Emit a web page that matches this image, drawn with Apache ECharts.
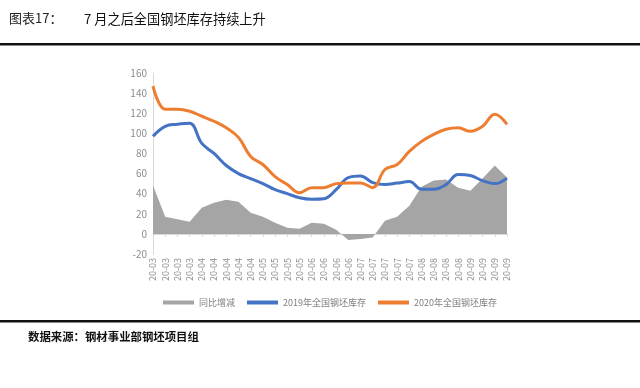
<!DOCTYPE html>
<html><head><meta charset="utf-8">
<script src="https://cdn.jsdelivr.net/npm/echarts@6/dist/echarts.min.js"></script>
<style>html,body{margin:0;padding:0;background:#fff}#c{width:640px;height:388px}</style>
</head><body><div id="c"></div>
<script>
var categories = ['20-03','20-03','20-03','20-03','20-04','20-04','20-04','20-04','20-04','20-05','20-05','20-05','20-05','20-06','20-06','20-06','20-06','20-07','20-07','20-07','20-07','20-07','20-08','20-08','20-08','20-08','20-09','20-09','20-09','20-09'];
var yoyChange = [48,17,14.5,12,26,31,34,32,21,17,11,6,5,11,10,4,-6,-5,-3.5,13,17,28,47,53,54,46,43,55,68,56];
var stock2019 = [97,107,109,110,90,80,68,60,55,50,44,40,36,34.5,35,44,56,57.5,51,49,50.5,52,44.5,44.5,49,59,58,53,50,55.5];
var stock2020 = [147,124,124,122,117,112,105.5,96,77,69,57,49,41,46,46,50,50.7,50.7,46,64,69,82,92,99,104,105.5,102,107,119,109];
var yTicks = {min:-20, max:160, interval:20};

var chart = echarts.init(document.getElementById('c'));
var font = '"Noto Sans CJK SC", "Noto Sans", sans-serif';
chart.setOption({
  animation:false,
  textStyle:{fontFamily:font},
  graphic:[
    {type:'text', left:9, top:12, style:{text:'图表17：', font:'13px "Noto Sans CJK SC"', fill:'#222'}},
    {type:'text', left:84, top:12, style:{text:'7 月之后全国钢坯库存持续上升', font:'13.2px "Noto Sans CJK SC"', fill:'#111'}},
    {type:'rect', shape:{x:0, y:43, width:640, height:2.5}, style:{fill:'#111'}},
    {type:'rect', shape:{x:0, y:320, width:640, height:2.5}, style:{fill:'#111'}},
    {type:'text', left:28, top:331, style:{text:'数据来源：钢材事业部钢坯项目组', font:'bold 11.4px "Noto Sans CJK SC"', fill:'#111'}}
  ],
  grid:{left:153, right:133, top:73, bottom:134},
  legend:{
    left:158, top:293, itemWidth:31, itemHeight:4, itemGap:12, icon:'rect',
    textStyle:{fontSize:9, color:'#7f7f7f', fontFamily:font},
    data:['同比增减','2019年全国钢坯库存','2020年全国钢坯库存']
  },
  xAxis:[
    {type:'category', data:categories, boundaryGap:false,
     axisLine:{onZero:true, lineStyle:{color:'#d9d9d9', width:1}},
     axisTick:{show:true, length:3, interval:0, lineStyle:{color:'#d9d9d9'}},
     axisLabel:{show:false}, splitLine:{show:false}},
    {type:'category', data:categories, boundaryGap:false, position:'bottom',
     axisLine:{show:false, onZero:false}, axisTick:{show:false},
     axisLabel:{show:true, interval:0, rotate:90, margin:4, fontSize:9, color:'#8c8c8c', fontFamily:font},
     splitLine:{show:false}}
  ],
  yAxis:{type:'value', min:yTicks.min, max:yTicks.max, interval:yTicks.interval,
    axisLine:{show:true, lineStyle:{color:'#d9d9d9'}}, axisTick:{show:false},
    splitLine:{show:false},
    axisLabel:{fontSize:10, color:'#8c8c8c', margin:6, fontFamily:font}},
  series:[
    {name:'同比增减', type:'line', data:yoyChange, xAxisIndex:0, symbol:'none',
     lineStyle:{width:0}, itemStyle:{color:'#a5a5a5'}, areaStyle:{color:'#a5a5a5', opacity:1}, z:1},
    {name:'2019年全国钢坯库存', type:'line', data:stock2019, xAxisIndex:0, symbol:'none', smooth:0.4,
     lineStyle:{width:3, color:'#4472c4'}, itemStyle:{color:'#4472c4'}, z:2},
    {name:'2020年全国钢坯库存', type:'line', data:stock2020, xAxisIndex:0, symbol:'none', smooth:0.4,
     lineStyle:{width:3, color:'#ed7d31'}, itemStyle:{color:'#ed7d31'}, z:3}
  ]
});
</script></body></html>
